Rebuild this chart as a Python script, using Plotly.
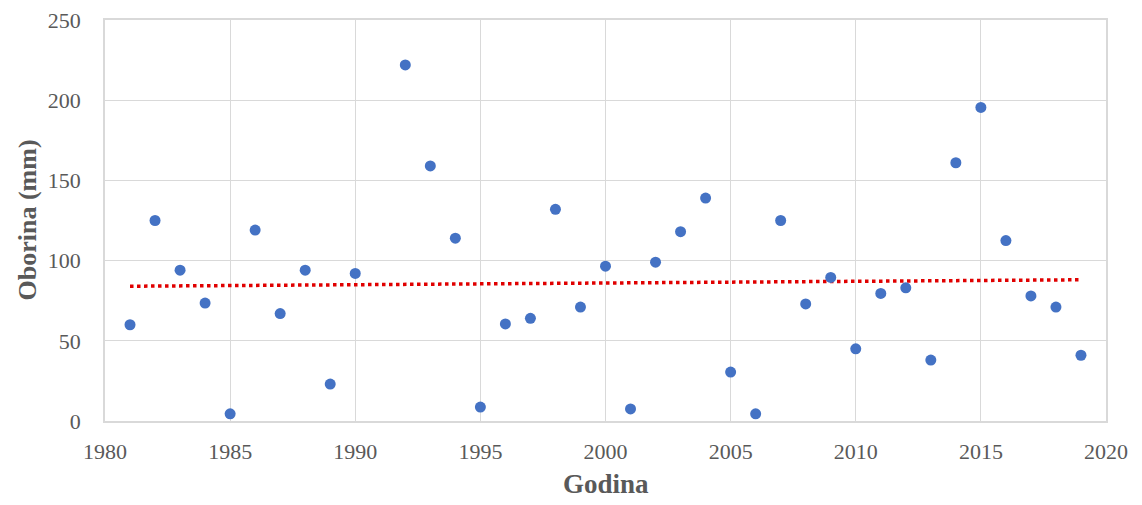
import numpy as np
import plotly.graph_objects as go

years = [1981, 1982, 1983, 1984, 1985, 1986, 1987, 1988, 1989, 1990,
         1992, 1993, 1994, 1995, 1996, 1997, 1998, 1999, 2000, 2001,
         2002, 2003, 2004, 2005, 2006, 2007, 2008, 2009, 2010, 2011,
         2012, 2013, 2014, 2015, 2016, 2017, 2018, 2019]
precip = [60, 125, 94, 73.5, 4.5, 119, 67, 94, 23, 92,
          222, 159, 114, 8.7, 60.5, 64, 132, 71, 96.5, 7.5,
          99, 118, 139, 30.5, 4.5, 125, 73, 89.5, 45, 79.5,
          83, 38, 161, 195.5, 112.5, 78, 71, 41]

x_ticks = [1980, 1985, 1990, 1995, 2000, 2005, 2010, 2015, 2020]
y_ticks = [0, 50, 100, 150, 200, 250]

slope, intercept = np.polyfit(years, precip, 1)
trend_x = [years[0], years[-1]]
trend_y = [slope * v + intercept for v in trend_x]

fig = go.Figure()
fig.add_trace(go.Scatter(
    x=trend_x, y=trend_y, mode="lines",
    line=dict(color="#e00000", width=3.5, dash="dot"),
    showlegend=False, hoverinfo="skip"))
fig.add_trace(go.Scatter(
    x=years, y=precip, mode="markers",
    marker=dict(color="#4472C4", size=11),
    showlegend=False))

font_family = "Liberation Serif, Times New Roman, serif"
fig.update_layout(
    width=1126, height=489,
    margin=dict(l=97, r=28, t=12, b=76),
    paper_bgcolor="white", plot_bgcolor="white",
    font=dict(family=font_family, color="#595959", size=22),
    annotations=[
        dict(text="<b>Godina</b>", x=0.5, y=0, xref="paper", yref="paper",
             xanchor="center", yanchor="middle", yshift=-63, showarrow=False,
             font=dict(size=27, color="#595959", family=font_family)),
        dict(text="<b>Oborina (mm)</b>", x=0, y=0.5, xref="paper", yref="paper",
             xanchor="center", yanchor="middle", xshift=-78, textangle=-90,
             showarrow=False,
             font=dict(size=26, color="#595959", family=font_family)),
    ],
)
fig.update_xaxes(
    range=[1980, 2020], tickvals=x_ticks, ticktext=[str(t) for t in x_ticks],
    showgrid=True, gridcolor="#d9d9d9", gridwidth=1,
    showline=True, linecolor="#d9d9d9", linewidth=1.5, mirror=True,
    zeroline=False, ticks="", ticklabelstandoff=10, automargin=False,
    ticklabeloverflow="allow",
    tickfont=dict(size=22, color="#595959", family=font_family),
)
fig.update_yaxes(
    range=[0, 250], tickvals=y_ticks, ticktext=[str(t) for t in y_ticks],
    showgrid=True, gridcolor="#d9d9d9", gridwidth=1,
    showline=True, linecolor="#d9d9d9", linewidth=1.5, mirror=True,
    zeroline=False, ticks="", ticklabelstandoff=18, automargin=False,
    ticklabeloverflow="allow",
    tickfont=dict(size=22, color="#595959", family=font_family),
)

fig.write_html("out.html")
